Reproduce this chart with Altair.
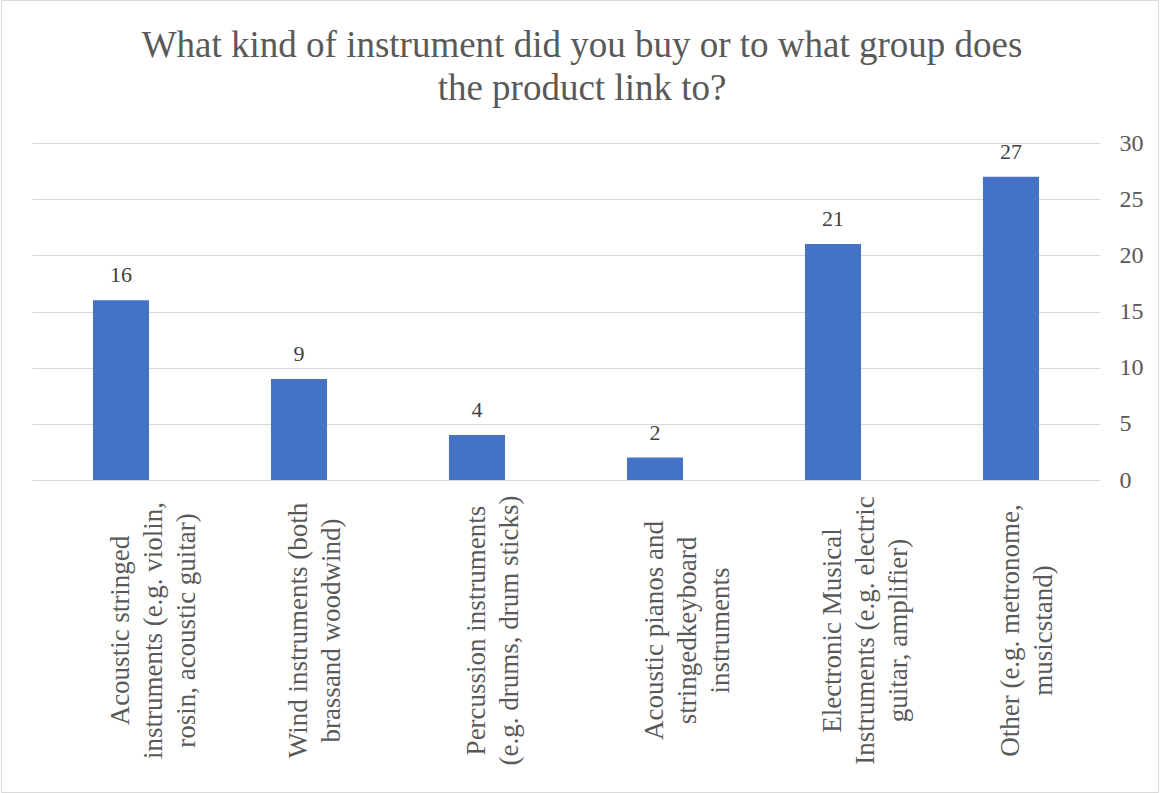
import altair as alt
import pandas as pd

categories = [
    "Acoustic stringed\ninstruments (e.g. violin,\nrosin, acoustic guitar)",
    "Wind instruments (both\nbrassand woodwind)",
    "Percussion instruments\n(e.g. drums, drum sticks)",
    "Acoustic pianos and\nstringedkeyboard\ninstruments",
    "Electronic Musical\nInstruments (e.g. electric\nguitar, amplifier)",
    "Other (e.g. metronome,\nmusicstand)",
]
counts = [16, 9, 4, 2, 21, 27]
y_ticks = [0, 5, 10, 15, 20, 25, 30]
title_lines = ["What kind of instrument  did you buy or to what group does", "the product link  to?"]

df = pd.DataFrame({"category": categories, "count": counts})

SERIF = "Liberation Serif"
TXT = "#595959"

x_enc = alt.X(
    "category:N",
    sort=categories,
    title=None,
    scale=alt.Scale(paddingInner=0.685, paddingOuter=0.3425),
    axis=alt.Axis(
        labelAngle=270,
        labelAlign="center",
        labelBaseline="middle",
        labelPadding=150,
        ticks=False,
        tickSize=0,
        labelExpr="split(datum.label, '\\n')",
        labelFont=SERIF,
        labelFontSize=27,
        labelLineHeight=33,
        labelColor=TXT,
        labelLimit=0,
        labelOverlap=False,
        domainColor="#d9d9d9",
        domainWidth=1,
        grid=False,
    ),
)

y_enc = alt.Y(
    "count:Q",
    title=None,
    scale=alt.Scale(domain=[0, 30]),
    axis=alt.Axis(
        orient="right",
        values=y_ticks,
        domain=False,
        ticks=False,
        labelPadding=19,
        labelAlign="left",
        labelFont=SERIF,
        labelFontSize=24,
        labelColor=TXT,
        gridColor="#d9d9d9",
        gridWidth=1,
    ),
)

bars = alt.Chart(df).mark_bar(color="#4472C4").encode(x=x_enc, y=y_enc)

labels = alt.Chart(df).mark_text(
    baseline="alphabetic", dy=-18, font=SERIF, fontSize=22, color="#404040"
).encode(x=x_enc, y=y_enc, text="count:Q")

border = alt.Chart(alt.Data(values=[{"a": 1}])).mark_rect(
    fill=None, stroke="#d9d9d9", strokeWidth=1
).encode(
    x=alt.value(-30.5), x2=alt.value(1126.5), y=alt.value(-142.5), y2=alt.value(649.5)
)

chart = alt.layer(border, bars, labels).properties(
    width=1068,
    height=337,
    background="white",
    title=alt.TitleParams(
        text=title_lines,
        font=SERIF,
        fontSize=37,
        fontWeight="normal",
        color=TXT,
        lineHeight=43,
        anchor="middle",
        baseline="bottom",
        offset=-145,
        dx=16,
    ),
    autosize=alt.AutoSizeParams(type="none"),
    padding={"left": 32, "top": 143, "right": 60, "bottom": 313},
).configure_view(strokeWidth=0, stroke="transparent")

chart.save("out.html", embed_options={"renderer": "svg", "actions": False})
